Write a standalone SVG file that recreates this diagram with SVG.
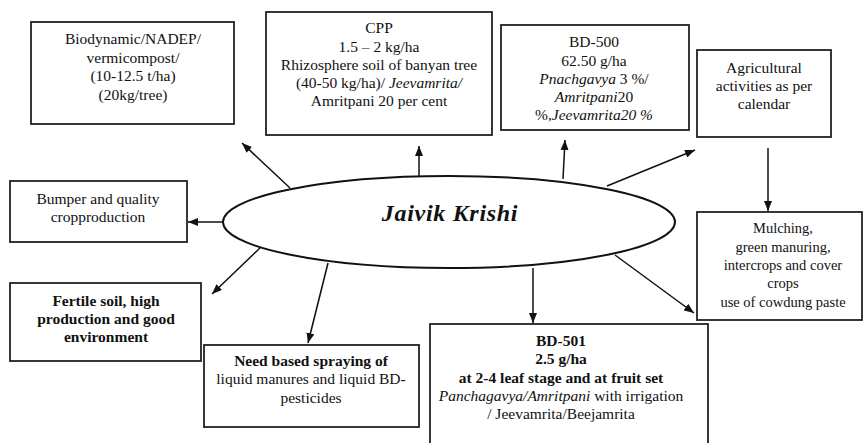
<svg xmlns="http://www.w3.org/2000/svg" width="864" height="443" viewBox="0 0 864 443">
  <defs>
    <marker id="arrow" markerUnits="userSpaceOnUse" markerWidth="10" markerHeight="8" refX="10" refY="4" orient="auto">
      <path d="M0,0 L10,4 L0,8 z" fill="#111"/>
    </marker>
  </defs>
  <style>
    .box { fill: #fff; stroke: #222; stroke-width: 1.8; }
    .hub { fill: #fff; stroke: #111; stroke-width: 2; }
    .link { stroke: #111; stroke-width: 1.5; fill: none; marker-end: url(#arrow); }
    text { font-family: 'Liberation Serif', 'DejaVu Serif', serif; font-size: 15.5px; fill: #111; text-anchor: middle; }
    .b { font-weight: bold; }
    .i { font-style: italic; }
    .sm { font-size: 14.5px; }
    .title { font-size: 24px; font-weight: bold; font-style: italic; letter-spacing: 0.7px; }
  </style>
  <rect width="864" height="443" fill="#fff"/>

  <!-- connectors -->
  <g id="connectors">
    <line class="link" x1="290" y1="188" x2="242" y2="143"/>
    <line class="link" x1="419" y1="176" x2="419" y2="146"/>
    <line class="link" x1="563" y1="179" x2="565" y2="140"/>
    <line class="link" x1="607" y1="186" x2="695" y2="150"/>
    <line class="link" x1="768" y1="148" x2="768" y2="211"/>
    <line class="link" x1="615" y1="255" x2="694" y2="313"/>
    <line class="link" x1="533" y1="268" x2="533" y2="323"/>
    <line class="link" x1="328" y1="263" x2="308" y2="343"/>
    <line class="link" x1="260" y1="248" x2="212" y2="294"/>
    <line class="link" x1="223" y1="222" x2="188" y2="222"/>
  </g>

  <g id="hub">
    <ellipse class="hub" cx="449" cy="222" rx="226" ry="46"/>
    <text class="title" x="450" y="221">Jaivik Krishi</text>
  </g>

  <g id="biodynamic">
    <rect class="box" x="31" y="22" width="203" height="102"/>
    <text x="133" y="44">Biodynamic/NADEP/</text>
    <text x="133" y="62.5">vermicompost/</text>
    <text x="133" y="81">(10-12.5 t/ha)</text>
    <text x="133" y="99.5">(20kg/tree)</text>
  </g>

  <g id="cpp">
    <rect class="box" x="266" y="12" width="226" height="123"/>
    <text x="379" y="33">CPP</text>
    <text x="379" y="51.5">1.5 – 2 kg/ha</text>
    <text x="379" y="69.5">Rhizosphere soil of banyan tree</text>
    <text x="379" y="88">(40-50 kg/ha)/ <tspan class="i">Jeevamrita/</tspan></text>
    <text x="379" y="106">Amritpani 20 per cent</text>
  </g>

  <g id="bd500">
    <rect class="box" x="501" y="25" width="188" height="105"/>
    <text x="594" y="47">BD-500</text>
    <text x="594" y="65.5">62.50 g/ha</text>
    <text x="594" y="84"><tspan class="i">Pnachgavya</tspan> 3 %/</text>
    <text x="594" y="102"><tspan class="i">Amritpani</tspan>20</text>
    <text x="594" y="120">%,<tspan class="i">Jeevamrita20 %</tspan></text>
  </g>

  <g id="agricultural">
    <rect class="box" x="697" y="50" width="134" height="87"/>
    <text x="764" y="73">Agricultural</text>
    <text x="764" y="91">activities as per</text>
    <text x="764" y="109">calendar</text>
  </g>

  <g id="mulching">
    <rect class="box" x="697" y="212" width="165" height="108"/>
    <text class="sm" x="783" y="233">Mulching,</text>
    <text class="sm" x="783" y="252">green manuring,</text>
    <text class="sm" x="783" y="270">intercrops and cover</text>
    <text class="sm" x="783" y="288">crops</text>
    <text class="sm" x="783" y="307">use of cowdung paste</text>
  </g>

  <g id="bumper">
    <rect class="box" x="10" y="181" width="177" height="61"/>
    <text x="98" y="204">Bumper and quality</text>
    <text x="98" y="222">cropproduction</text>
  </g>

  <g id="fertile">
    <rect class="box" x="10" y="283" width="191" height="78"/>
    <text class="b" x="106" y="306">Fertile soil, high</text>
    <text class="b" x="106" y="324">production and good</text>
    <text class="b" x="106" y="342">environment</text>
  </g>

  <g id="spraying">
    <rect class="box" x="204" y="345" width="215" height="82"/>
    <text class="b" x="311" y="366">Need based spraying of</text>
    <text x="311" y="384">liquid manures and liquid BD-</text>
    <text x="311" y="403">pesticides</text>
  </g>

  <g id="bd501">
    <rect class="box" x="430" y="324" width="278" height="130"/>
    <text class="b" x="561" y="346">BD-501</text>
    <text class="b" x="561" y="364">2.5 g/ha</text>
    <text class="b" x="561" y="383">at 2-4 leaf stage and at fruit set</text>
    <text x="561" y="401"><tspan class="i">Panchagavya/Amritpani</tspan> with irrigation</text>
    <text x="561" y="419">/ Jeevamrita/Beejamrita</text>
  </g>
</svg>
